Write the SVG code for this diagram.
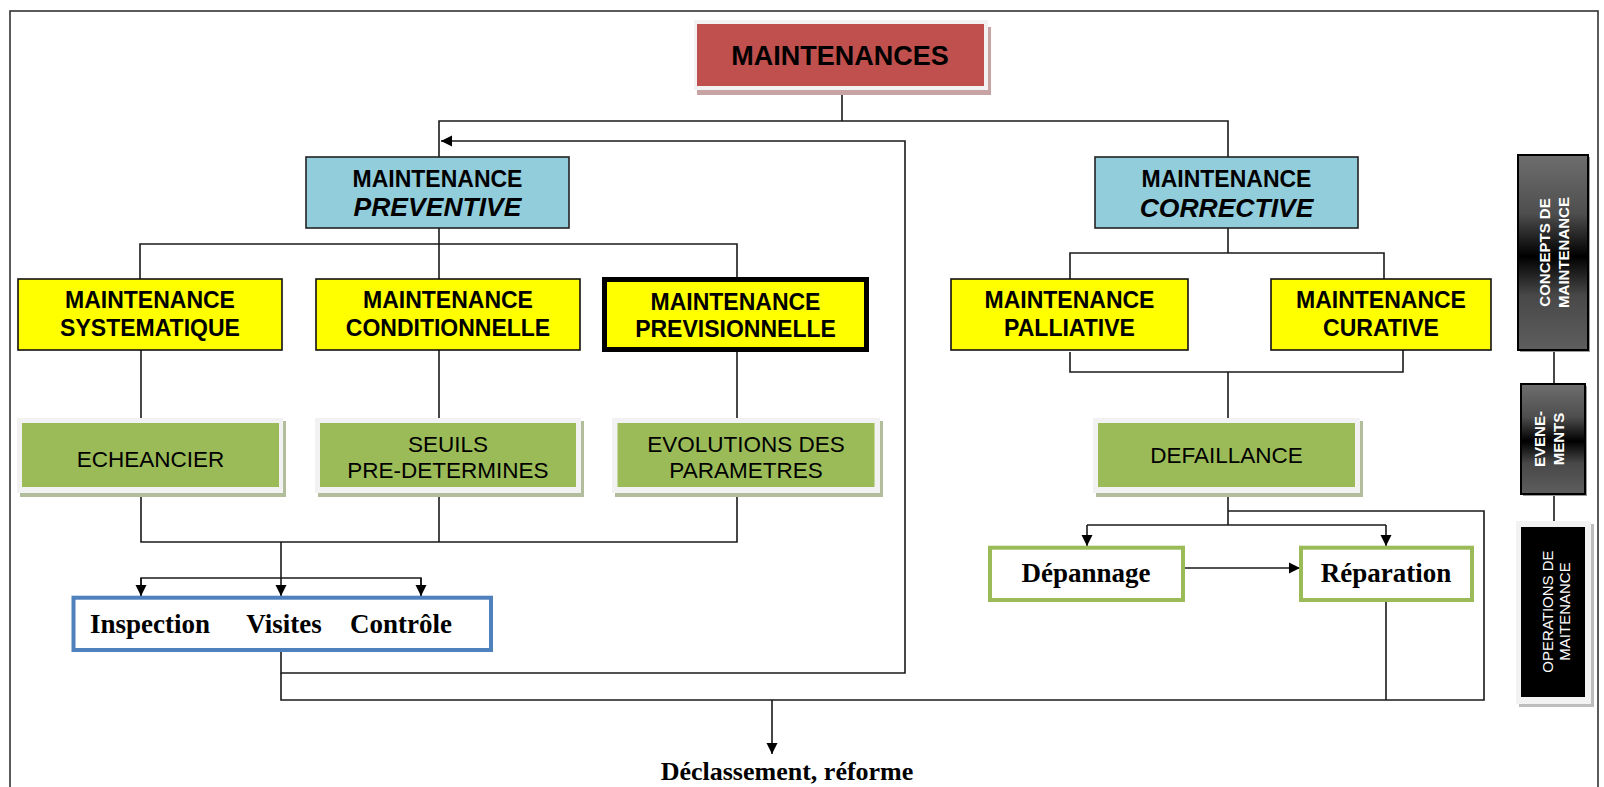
<svg xmlns="http://www.w3.org/2000/svg" width="1604" height="787" viewBox="0 0 1604 787">
<style>
.ln{fill:none;stroke:#1a1a1a;stroke-width:1.6}
.sans{font-family:"Liberation Sans",Arial,sans-serif;fill:#000}
.b{font-weight:bold}
.bi{font-weight:bold;font-style:italic}
.serif{font-family:"Liberation Serif","Times New Roman",serif;font-weight:bold;fill:#000}
.yel{fill:#FFFF00;stroke:#111;stroke-width:1.6}
.blue{fill:#92CDDC;stroke:#222;stroke-width:1.6}
.green{fill:#9BBB59}
.rim{fill:#f2f2f2}
.gshadow{fill:#b2bd9c}
.wt{font-family:"Liberation Sans",Arial,sans-serif;fill:#fff;font-size:15px}
</style>
<defs>
<marker id="arr" markerUnits="userSpaceOnUse" markerWidth="12" markerHeight="12" refX="11" refY="6" orient="auto">
<path d="M0,0.5 L11,6 L0,11.5 z" fill="#000"/>
</marker>
<linearGradient id="dark" x1="0" y1="0" x2="0" y2="1">
<stop offset="0" stop-color="#6e6e6e"/>
<stop offset="0.3" stop-color="#4e4e4e"/>
<stop offset="0.52" stop-color="#000"/>
<stop offset="0.72" stop-color="#484848"/>
<stop offset="1" stop-color="#5e5e5e"/>
</linearGradient>
</defs>
<rect width="1604" height="787" fill="#fff"/>
<rect x="10" y="11" width="1588" height="820" fill="none" stroke="#333" stroke-width="1.6"/>

<g id="connectors">
<path class="ln" d="M842 86 V121"/>
<path class="ln" d="M439 157 V121 H1228 V157"/>
<path class="ln" d="M281 652 V673 H905 V141 H441" stroke-width="2" marker-end="url(#arr)"/>
<path class="ln" d="M281 673 V700 H1484 V511 H1228"/>
<path class="ln" d="M1386 602 V700"/>
<path class="ln" d="M772 700 V754" marker-end="url(#arr)"/>
<path class="ln" d="M439 228 V244"/>
<path class="ln" d="M140 279 V244 H737 V278"/>
<path class="ln" d="M439 244 V279"/>
<path class="ln" d="M141 350 V420"/>
<path class="ln" d="M439 350 V420"/>
<path class="ln" d="M737 352 V420"/>
<path class="ln" d="M141 487 V542 H737 V487"/>
<path class="ln" d="M439 487 V542"/>
<path class="ln" d="M281 542 V596" marker-end="url(#arr)"/>
<path class="ln" d="M141 596 V578 H421 V596"/>
<path class="ln" d="M141 578 V596" marker-end="url(#arr)"/>
<path class="ln" d="M421 578 V596" marker-end="url(#arr)"/>
<path class="ln" d="M1228 228 V253"/>
<path class="ln" d="M1070 279 V253 H1384 V279"/>
<path class="ln" d="M1070 352 V372 H1403 V350"/>
<path class="ln" d="M1228 372 V420"/>
<path class="ln" d="M1228 487 V525"/>
<path class="ln" d="M1087 525 H1386"/>
<path class="ln" d="M1087 525 V546" marker-end="url(#arr)"/>
<path class="ln" d="M1386 525 V546" marker-end="url(#arr)"/>
<path class="ln" d="M1185 568 H1300" stroke-width="2" marker-end="url(#arr)"/>
<path class="ln" d="M1554 350 V384"/>
<path class="ln" d="M1554 494 V521"/>
</g>

<g id="maintenances">
<rect x="697" y="27" width="294" height="68" fill="#c8a3a3"/>
<rect x="694" y="20" width="294" height="70" class="rim"/>
<rect x="697" y="24" width="287" height="62" fill="#C0504D"/>
<text x="840" y="65" text-anchor="middle" class="sans b" font-size="27">MAINTENANCES</text>
</g>

<g id="preventive">
<rect x="306" y="157" width="263" height="71" class="blue"/>
<text x="437.5" y="187" text-anchor="middle" class="sans b" font-size="23">MAINTENANCE</text>
<text x="437.5" y="216" text-anchor="middle" class="sans bi" font-size="26.5">PREVENTIVE</text>
</g>

<g id="corrective">
<rect x="1095" y="157" width="263" height="71" class="blue"/>
<text x="1226.5" y="187" text-anchor="middle" class="sans b" font-size="23">MAINTENANCE</text>
<text x="1226.5" y="216.5" text-anchor="middle" class="sans bi" font-size="26.5">CORRECTIVE</text>
</g>

<g id="systematique">
<rect x="18" y="279" width="264" height="71" class="yel"/>
<text x="150" y="308" text-anchor="middle" class="sans b" font-size="23">MAINTENANCE</text>
<text x="150" y="336" text-anchor="middle" class="sans b" font-size="23">SYSTEMATIQUE</text>
</g>

<g id="conditionnelle">
<rect x="316" y="279" width="264" height="71" class="yel"/>
<text x="448" y="308" text-anchor="middle" class="sans b" font-size="23">MAINTENANCE</text>
<text x="448" y="336" text-anchor="middle" class="sans b" font-size="23">CONDITIONNELLE</text>
</g>

<g id="previsionnelle">
<rect x="604.5" y="279.5" width="262" height="70" fill="#FFFF00" stroke="#000" stroke-width="5"/>
<text x="735.5" y="309.5" text-anchor="middle" class="sans b" font-size="23">MAINTENANCE</text>
<text x="735.5" y="337" text-anchor="middle" class="sans b" font-size="23">PREVISIONNELLE</text>
</g>

<g id="palliative">
<rect x="951" y="279" width="237" height="71" class="yel"/>
<text x="1069.5" y="308" text-anchor="middle" class="sans b" font-size="23">MAINTENANCE</text>
<text x="1069.5" y="336" text-anchor="middle" class="sans b" font-size="23">PALLIATIVE</text>
</g>

<g id="curative">
<rect x="1271" y="279" width="220" height="71" class="yel"/>
<text x="1381" y="308" text-anchor="middle" class="sans b" font-size="23">MAINTENANCE</text>
<text x="1381" y="335.5" text-anchor="middle" class="sans b" font-size="23">CURATIVE</text>
</g>

<g id="echeancier">
<rect x="20" y="421" width="266" height="76" class="gshadow"/>
<rect x="17" y="418" width="266" height="75" class="rim"/>
<rect x="22" y="423" width="257" height="64" class="green"/>
<text x="150.5" y="466.5" text-anchor="middle" class="sans" font-size="22.5">ECHEANCIER</text>
</g>

<g id="seuils">
<rect x="318" y="421" width="266" height="76" class="gshadow"/>
<rect x="315" y="418" width="266" height="75" class="rim"/>
<rect x="320" y="423" width="256" height="64" class="green"/>
<text x="448" y="451.5" text-anchor="middle" class="sans" font-size="22.5">SEUILS</text>
<text x="448" y="478" text-anchor="middle" class="sans" font-size="22.5">PRE-DETERMINES</text>
</g>

<g id="evolutions">
<rect x="615" y="421" width="268" height="76" class="gshadow"/>
<rect x="612" y="418" width="268" height="75" class="rim"/>
<rect x="617.5" y="423" width="257" height="64" class="green"/>
<text x="746" y="451.5" text-anchor="middle" class="sans" font-size="22.5">EVOLUTIONS DES</text>
<text x="746" y="478" text-anchor="middle" class="sans" font-size="22.5">PARAMETRES</text>
</g>

<g id="defaillance">
<rect x="1096" y="421" width="267" height="76" class="gshadow"/>
<rect x="1093" y="418" width="267" height="75" class="rim"/>
<rect x="1098" y="423" width="257" height="64" class="green"/>
<text x="1226.5" y="463" text-anchor="middle" class="sans" font-size="22.5">DEFAILLANCE</text>
</g>

<g id="inspection">
<rect x="73.5" y="597.7" width="417.5" height="52.3" fill="#fff" stroke="#4F81BD" stroke-width="4"/>
<text x="150" y="633" text-anchor="middle" class="serif" font-size="27">Inspection</text>
<text x="284" y="633" text-anchor="middle" class="serif" font-size="27">Visites</text>
<text x="401" y="633" text-anchor="middle" class="serif" font-size="27">Contrôle</text>
</g>

<g id="depannage">
<rect x="990" y="547.7" width="193" height="52.3" fill="#fff" stroke="#9BBB59" stroke-width="4"/>
<text x="1086" y="582" text-anchor="middle" class="serif" font-size="27">Dépannage</text>
</g>

<g id="reparation">
<rect x="1301" y="547.7" width="171" height="52.3" fill="#fff" stroke="#9BBB59" stroke-width="4"/>
<text x="1386" y="582" text-anchor="middle" class="serif" font-size="27">Réparation</text>
</g>

<g id="declassement">
<text x="787" y="780" text-anchor="middle" class="serif" font-size="26">Déclassement, réforme</text>
</g>

<g id="concepts">
<rect x="1520" y="157" width="70" height="195" fill="#9a9a9a"/>
<rect x="1518" y="155" width="70" height="195" fill="url(#dark)" stroke="#000" stroke-width="2"/>
<text transform="translate(1550 252.5) rotate(-90)" text-anchor="middle" class="wt b">CONCEPTS DE</text>
<text transform="translate(1569 252.5) rotate(-90)" text-anchor="middle" class="wt b">MAINTENANCE</text>
</g>

<g id="evenements">
<rect x="1523" y="386" width="64" height="110" fill="#9a9a9a"/>
<rect x="1521" y="384" width="64" height="110" fill="url(#dark)" stroke="#000" stroke-width="2"/>
<text transform="translate(1545 439) rotate(-90)" text-anchor="middle" class="wt b">EVENE-</text>
<text transform="translate(1564 439) rotate(-90)" text-anchor="middle" class="wt b">MENTS</text>
</g>

<g id="operations">
<rect x="1519" y="524" width="75" height="183" fill="#bdbdbd"/>
<rect x="1516" y="521" width="75" height="183" class="rim"/>
<rect x="1521" y="527" width="64" height="170" fill="#000"/>
<text transform="translate(1553 611.5) rotate(-90)" text-anchor="middle" class="wt">OPERATIONS DE</text>
<text transform="translate(1570 611.5) rotate(-90)" text-anchor="middle" class="wt">MAITENANCE</text>
</g>
</svg>
